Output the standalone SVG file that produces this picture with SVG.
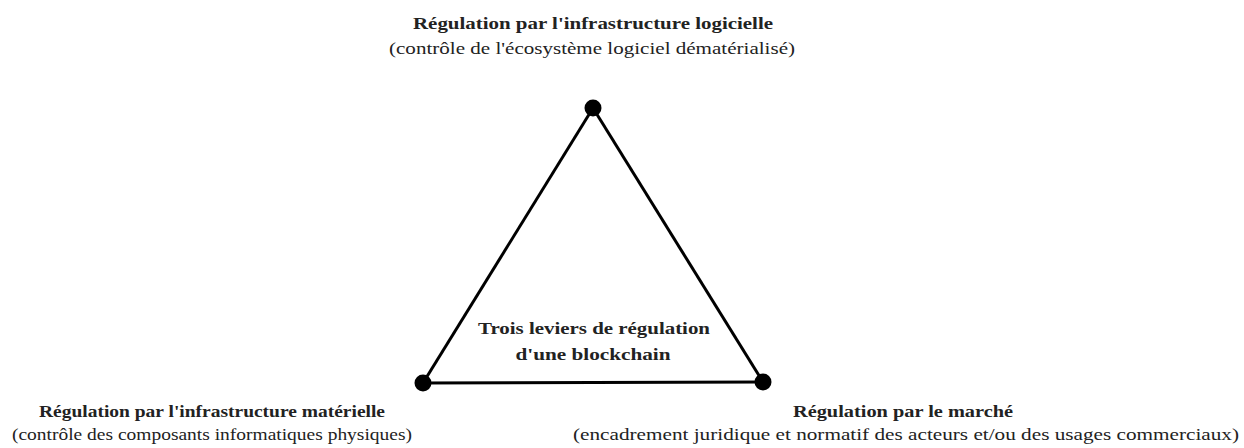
<svg xmlns="http://www.w3.org/2000/svg" width="1244" height="448" viewBox="0 0 1244 448">
<style>
text{font-family:"Liberation Serif","Times New Roman",serif;fill:#222;text-anchor:middle;font-size:17px}
.b{font-weight:bold}
.edge{stroke:#000;stroke-width:3;fill:none}
.dot{fill:#000}
</style>
<rect width="1244" height="448" fill="#fff"/>
<g id="connectors">
<line class="edge" x1="593" y1="108" x2="423" y2="383"/>
<line class="edge" x1="593" y1="108" x2="763" y2="382"/>
<line class="edge" x1="423" y1="383" x2="763" y2="382"/>
</g>
<g id="node-top">
<circle class="dot" cx="593" cy="108" r="8.5"/>
<text class="b" x="593" y="29" textLength="360" lengthAdjust="spacingAndGlyphs">Régulation par l'infrastructure logicielle</text>
<text x="592" y="54" textLength="406" lengthAdjust="spacingAndGlyphs">(contrôle de l'écosystème logiciel dématérialisé)</text>
</g>
<g id="node-left">
<circle class="dot" cx="423" cy="383" r="8.5"/>
<text class="b" x="212" y="417" textLength="346" lengthAdjust="spacingAndGlyphs">Régulation par l'infrastructure matérielle</text>
<text x="212" y="440" textLength="400" lengthAdjust="spacingAndGlyphs">(contrôle des composants informatiques physiques)</text>
</g>
<g id="node-right">
<circle class="dot" cx="763" cy="382" r="8.5"/>
<text class="b" x="903" y="417" textLength="220" lengthAdjust="spacingAndGlyphs">Régulation par le marché</text>
<text x="906" y="440" textLength="666" lengthAdjust="spacingAndGlyphs">(encadrement juridique et normatif des acteurs et/ou des usages commerciaux)</text>
</g>
<g id="node-center">
<text class="b" x="594" y="334" textLength="232" lengthAdjust="spacingAndGlyphs">Trois leviers de régulation</text>
<text class="b" x="593" y="360" textLength="155" lengthAdjust="spacingAndGlyphs">d'une blockchain</text>
</g>
</svg>
